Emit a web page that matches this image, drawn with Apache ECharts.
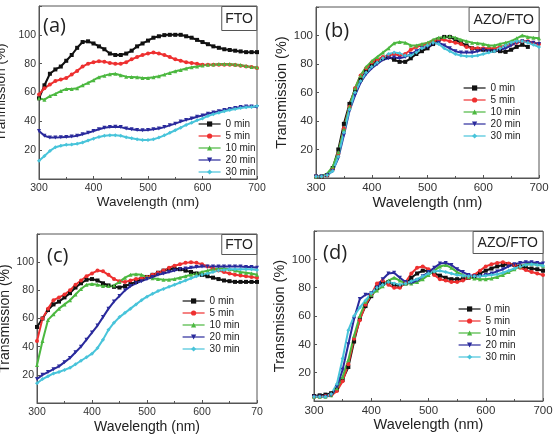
<!DOCTYPE html>
<html style="height: 100%">
<head>
<meta charset="utf-8">
</head>
<body style="height: 100%; margin: 0; background: #fff">
<div id="container" style="width: 555px; height: 435px"></div>
<script src="https://cdn.jsdelivr.net/npm/echarts@6/dist/echarts.min.js"></script>
<script>
// wavelength grid (nm) shared by all panels
var wavelength = [300, 310, 320, 330, 340, 350, 360, 370, 380, 390,
                  400, 410, 420, 430, 440, 450, 460, 470, 480, 490,
                  500, 510, 520, 530, 540, 550, 560, 570, 580, 590,
                  600, 610, 620, 630, 640, 650, 660, 670, 680, 690, 700];
var seriesNames = ['0 min', '5 min', '10 min', '20 min', '30 min'];
var xTicks = [300, 400, 500, 600, 700];
var yTicks = [20, 40, 60, 80, 100];

// (a) FTO
var a0 = [56, 65, 73, 76, 78, 82, 86, 91, 95, 95.5, 94, 92, 90, 87, 86, 86, 87, 89, 92, 94,
          96, 98, 99, 99.8, 100, 100, 100, 99, 98, 96.5, 95, 93.5, 92, 91, 90, 89.5, 89, 88.5, 88, 88, 88];
var a1 = [58.6, 63, 65.5, 68, 69, 70, 72.5, 75, 78, 80, 81, 81.6, 81.4, 80.5, 80, 80, 81, 83, 84.6, 86,
          87, 87.8, 87, 86, 84.6, 83, 82, 81, 80.5, 80, 79.3, 79.3, 79.3, 79.3, 79.3, 79.3, 79, 78.6, 78, 77.7, 77];
var a2 = [56, 55, 57.5, 59, 61, 62.5, 62.5, 63, 65, 66.7, 68.5, 70.6, 71.7, 72.6, 73, 72, 71, 70.8, 70.6, 70,
          70, 70.6, 71.3, 72.4, 73.6, 74.7, 75.6, 76.6, 77.5, 78, 78.8, 79.3, 79.5, 79.8, 79.8, 79.8, 79.5, 79, 78.4, 77.7, 77.5];
var a3 = [33.3, 30, 28.7, 28.7, 29, 29.2, 29.4, 30, 31, 32, 33.3, 34.5, 35.6, 36, 36.3, 36, 35, 34.5, 34, 33.8,
          34, 34.5, 35, 36, 37.2, 38.4, 39.8, 41, 42, 43.2, 44, 45.3, 46.2, 47, 47.8, 48.5, 49.2, 50, 50.3, 50.3, 50];
var a4 = [12.6, 16, 19.5, 22, 23, 23.7, 24, 24.4, 25.3, 26.7, 28, 29.2, 30, 30.3, 30.3, 30, 29, 28.3, 27.6, 27,
          27, 27.6, 28.7, 30.3, 32, 33.8, 35.6, 37.5, 39, 40.7, 42, 43.7, 45, 46, 47, 47.8, 48.5, 49.2, 49.7, 50, 50.6];

// (b) AZO/FTO
var b0 = [1, 1, 2, 7, 20, 38, 52, 62, 69, 75, 79, 82, 84, 85, 83, 81.5, 81.5, 84, 87, 89,
          91, 94, 97, 99, 99, 97, 95, 93, 91, 90.5, 90, 90, 89.5, 89, 88.5, 90, 92, 93.5, 92, null, null];
var b1 = [1, 1, 2, 6, 17, 35, 50, 63, 72, 77, 81, 83, 85, 86, 87, 86, 87, 90, 92, 93,
          94, 96, 97, 97, 96, 95, 94, 92, 91, 91, 91, 91, 91, 92, 93, 94, 95, 96, 96, 95, 94];
var b2 = [1, 1.5, 3, 8, 18, 34, 50, 63, 72, 78, 82, 85, 88, 91, 94.5, 95.5, 95, 93, 93, 94,
          95, 97, 98.5, 99, 99.5, 98.5, 97, 96, 95, 94.5, 94, 93, 93, 94, 95, 96, 98, 100, 99, 98.5, 98];
var b3 = [1, 1, 2, 5, 14, 30, 47, 58, 67, 73, 77, 80, 83, 84, 84.5, 84, 85, 87, 89, 91,
          92, 94, 95, 93, 91, 89, 88, 88, 88, 89, 90, 89, 89, 90, 91, 93, 95, 96, 95.5, 95, 94];
var b4 = [1, 1, 2, 5, 15, 32, 48, 60, 68, 74, 78, 81, 84, 87, 88, 87.5, 86, 86, 88, 91,
          93, 95, 94, 91, 89, 87, 86, 85.5, 85.5, 86, 87, 88, 89, 91, 93, 95, 96, 96, 95, 93.5, 92];

// (c) FTO
var c0 = [54, 60, 66, 70, 72, 75, 78, 82, 85, 87.5, 88, 87, 85, 83.5, 82.5, 82, 83, 84.5, 86, 88,
          89.5, 91, 92.5, 94, 95, 95.5, 95, 94, 93, 92, 91, 90, 89, 88, 87, 86.5, 86, 86, 86, 86, 86];
var c1 = [44, 60, 67, 73, 75, 77, 80, 84, 87, 90, 92, 94, 93.5, 91, 88, 86.5, 86, 87, 88, 88.5,
          89.5, 91, 92.5, 94, 96, 97.5, 98.5, 99.5, 100, 99.5, 98.5, 97, 95.5, 94, 93, 92, 91, 90.5, 90, 89.5, 89];
var c2 = [27, 44, 59, 63, 67, 70, 73, 77, 81, 84, 84.5, 84, 83, 83, 83.5, 86, 89, 91, 91.5, 91,
          89.5, 88.5, 88, 87.5, 87.5, 88, 89, 90, 91, 92, 93, 94, 95, 95.5, 95.5, 95, 94, 93, 92.5, 92, 91];
var c3 = [17, 20, 22, 24, 26, 29, 32, 36, 40, 45, 50, 55, 61, 67, 72, 76, 80, 83, 85, 86.5,
          88, 89.5, 91, 92, 93, 94, 95, 95.5, 96, 96.5, 97, 97, 97, 97, 97, 97, 97, 97, 96.5, 96.5, 96];
var c4 = [14, 17, 19, 21, 22, 23.5, 25, 27.5, 30, 32.5, 35, 39, 45, 52, 57, 61, 64, 67, 70, 73,
          75.5, 77.5, 79.5, 81, 82.5, 84, 85.5, 87, 88.5, 90, 91, 92, 93, 94, 94.5, 95, 95, 95, 95, 95, 94.5];

// (d) AZO/FTO
var d0 = [3.5, 4, 4.5, 5.5, 8, 15, 24, 42, 58, 67, 74, 80, 83, 84, 82, 81, 83, 87, 90, 92,
          92, 90, 88.5, 87, 86, 86, 86, 87, 88, 90, 92, 93.5, 95, 96, 96.5, 96, 95, 94, 93.5, 93, 92];
var d1 = [3, 3, 3.5, 4, 7, 14, 26, 44, 57, 68, 75, 83, 85, 82, 80, 80, 84, 90, 94, 95,
          93, 89, 86, 85, 84, 84, 85, 87, 89, 92, 95, 96.5, 97.5, 98, 97, 96, 94, 92.5, 91, 90, 89];
var d2 = [3, 3, 3, 4, 9, 17, 29, 46, 60, 70, 75, 78, 81, 85, 87, 85, 83, 83, 84, 86,
          89, 92, 95, 96, 94, 91, 89, 87.5, 86.5, 86, 86, 86.5, 87.5, 89, 91, 93, 95, 96.5, 97, 96.5, 95.5];
var d3 = [3, 3, 3, 4, 10, 22, 40, 58, 72, 75, 76, 80, 86, 90, 90.5, 87, 84, 83.5, 85, 88,
          91, 94, 97, 97.5, 96, 93, 91, 89, 88, 88, 89, 90, 91.5, 93, 95, 96.5, 97.5, 98, 98, 97.5, 97];
var d4 = [3, 3, 3, 5, 12, 30, 50, 60, 66, 71, 76, 80, 82, 84, 83, 82, 83, 84.5, 86, 88,
          90, 91.5, 92, 91, 90, 89, 88.5, 88, 88, 88, 88.5, 89, 89.5, 90.5, 92, 93.5, 95, 96, 96.5, 96, 95.5];

var dom = document.getElementById('container');
var myChart = echarts.init(dom, null, {renderer: 'canvas'});

var FONT = '"Liberation Sans", Arial, sans-serif';
var colors = ['#111111', '#ee3030', '#4cb840', '#2a2a9c', '#48c4da'];
var symbols = ['rect', 'circle', 'triangle', 'triangle', 'diamond'];
var rotates = [0, 0, 0, 180, 0];

var panels = [
    {label: '(a)', tag: 'FTO', yName: 'Tranmission (%)', values: [a0, a1, a2, a3, a4],
     grid: {left: 39, top: 6, width: 218, height: 173},
     labelPos: {left: 43, top: 16}, tagPos: {right: 298, top: 6, padding: [5, 4, 4, 4]},
     legendPos: {left: 198, top: 118}, tick: 10.5, title: 13.5, xGap: 16, yGap: 31},
    {label: '(b)', tag: 'AZO/FTO', yName: 'Transmission (%)', values: [b0, b1, b2, b3, b4],
     grid: {left: 316, top: 7, width: 223, height: 171},
     labelPos: {left: 325, top: 21}, tagPos: {right: 16, top: 7, padding: [5, 5, 4, 5]},
     legendPos: {left: 463, top: 82}, tick: 11.5, title: 14.5, xGap: 17, yGap: 20},
    {label: '(c)', tag: 'FTO', yName: 'Transmission (%)', values: [c0, c1, c2, c3, c4],
     grid: {left: 37, top: 234, width: 220, height: 169},
     labelPos: {left: 47, top: 246}, tagPos: {right: 298, top: 234, padding: [3, 4, 2, 4]},
     legendPos: {left: 182, top: 295}, tick: 10.5, title: 14, xGap: 17, yGap: 24},
    {label: '(d)', tag: 'AZO/FTO', yName: 'Transmission (%)', values: [d0, d1, d2, d3, d4],
     grid: {left: 314, top: 231, width: 229, height: 170},
     labelPos: {left: 323, top: 243}, tagPos: {right: 12, top: 231, padding: [4, 5, 3, 5]},
     legendPos: {left: 458, top: 303}, tick: 11.5, title: 14.5, xGap: 14, yGap: 22}
];

var grids = [], xAxes = [], yAxes = [], titles = [], legends = [], series = [];

panels.forEach(function (p, pi) {
    grids.push(Object.assign({show: true, borderColor: '#555', borderWidth: 1,
                              backgroundColor: 'transparent', containLabel: false,
                              outerBoundsMode: 'none'}, p.grid));
    xAxes.push({
        type: 'value', gridIndex: pi, min: xTicks[0], max: xTicks[xTicks.length - 1], interval: 100,
        name: 'Wavelength (nm)', nameLocation: 'middle', nameGap: p.xGap,
        nameTextStyle: {fontSize: p.title, color: '#222', fontFamily: FONT},
        axisLine: {show: true, onZero: false, lineStyle: {color: '#555', width: 1}},
        axisTick: {show: true, inside: true, length: 3, lineStyle: {color: '#555'}},
        minorTick: {show: true, splitNumber: 2, length: 2, lineStyle: {color: '#555'}},
        splitLine: {show: false},
        axisLabel: {fontSize: p.tick, color: '#333', margin: 4, fontFamily: FONT,
                    // the source figure is cropped right through the last label of (c)
                    formatter: function (v) { return (pi === 2 && v === 700) ? '70' : String(v); }}
    });
    yAxes.push({
        type: 'value', gridIndex: pi, min: 0, max: 120, interval: 20,
        name: p.yName, nameLocation: 'middle', nameGap: p.yGap, nameRotate: 90,
        nameTextStyle: {fontSize: p.title, color: '#222', fontFamily: FONT},
        axisLine: {show: true, onZero: false, lineStyle: {color: '#555', width: 1}},
        axisTick: {show: true, inside: true, length: 3, lineStyle: {color: '#555'}},
        minorTick: {show: false},
        splitLine: {show: false},
        axisLabel: {fontSize: p.tick, color: '#333', margin: 3, fontFamily: FONT,
                    formatter: function (v) { return yTicks.indexOf(v) >= 0 ? String(v) : ''; }}
    });
    titles.push(Object.assign({
        text: p.label, padding: 0,
        textStyle: {fontSize: 20, fontWeight: 'normal', color: '#222', fontFamily: '"Open Sans", sans-serif'}
    }, p.labelPos));
    titles.push(Object.assign({
        text: p.tag, borderColor: '#555', borderWidth: 1, backgroundColor: '#fff',
        textStyle: {fontSize: 14, fontWeight: 'normal', color: '#222', fontFamily: FONT, lineHeight: 16}
    }, p.tagPos));
    legends.push(Object.assign({
        orient: 'vertical', itemWidth: 22, itemHeight: 6.5, itemGap: 0, padding: 0,
        selectedMode: false,
        lineStyle: {width: 1.2},
        textStyle: {fontSize: 10, lineHeight: 12, color: '#222', fontFamily: FONT},
        data: seriesNames
    }, p.legendPos));
    p.values.forEach(function (vals, si) {
        var pts = [];
        wavelength.forEach(function (w, i) {
            if (vals[i] !== null) pts.push([w, vals[i]]);
        });
        series.push({
            type: 'line', name: seriesNames[si], xAxisIndex: pi, yAxisIndex: pi,
            data: pts, symbol: symbols[si], symbolRotate: rotates[si], symbolSize: 4,
            showSymbol: true, clip: true,
            lineStyle: {width: 2, color: colors[si]},
            itemStyle: {color: colors[si]},
            emphasis: {disabled: true}
        });
    });
});

var option = {
    backgroundColor: '#fff',
    animation: false,
    title: titles,
    legend: legends,
    grid: grids,
    xAxis: xAxes,
    yAxis: yAxes,
    series: series
};

myChart.setOption(option);
</script>
</body>
</html>
